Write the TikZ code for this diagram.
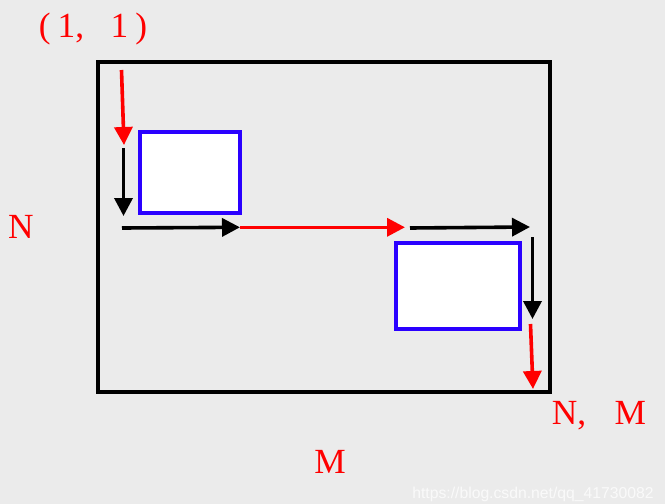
\documentclass[tikz,border=0pt]{standalone}
\usepackage{fontspec}
\setmainfont{Liberation Serif}
\newfontfamily\wmfont{Liberation Sans}
\usetikzlibrary{arrows.meta}
\definecolor{bg}{HTML}{EBEBEB}
\definecolor{boxblue}{HTML}{2A00FF}
\begin{document}
\begin{tikzpicture}[x=0.75pt,y=-0.75pt,
  frame/.style={draw=black,line width=3.3pt},
  block/.style={draw=boxblue,fill=white,line width=3pt},
  blkarrow/.style={draw=black,fill=black,line width=2.7pt,-{Triangle[length=13.5pt,width=13.5pt]}},
  redarrow/.style={draw=red,fill=red,line width=2.7pt,-{Triangle[length=13.5pt,width=13.5pt]}},
  lbl/.style={text=red,font=\fontsize{26.5}{27}\selectfont,inner sep=0pt},
  wm/.style={text=white,opacity=0.75,font=\wmfont\fontsize{11.8}{12}\selectfont,inner sep=0pt}]
\fill[bg] (0,0) rectangle (665,504);
\useasboundingbox (0,0) rectangle (665,504);
\draw[frame] (98,62) rectangle (550,392);
\draw[block] (140,132) rectangle (240,213);
\draw[block] (396,243) rectangle (520,329);
% coordinates
\coordinate (r1s) at (121.5,70);
\coordinate (r1e) at (124,145);
\coordinate (b1s) at (123.5,148);
\coordinate (b1e) at (123.5,216);
\coordinate (h1s) at (122,228);
\coordinate (h1e) at (240,227.3);
\coordinate (h2e) at (405,227.3);
\coordinate (h3s) at (410,228);
\coordinate (h3e) at (530,227);
\coordinate (v2s) at (532.5,237);
\coordinate (v2e) at (532.5,319);
\coordinate (r3s) at (530.5,324);
\coordinate (r3e) at (533,389);
\draw[redarrow] (r1s) -- (r1e);
\draw[blkarrow] (b1s) -- (b1e);
\draw[blkarrow] (h1s) -- (h1e);
\draw[redarrow] (h1e) -- (h2e);
\draw[blkarrow] (h3s) -- (h3e);
\draw[blkarrow] (v2s) -- (v2e);
\draw[redarrow] (r3s) -- (r3e);
\node[lbl] (start) at (93,29) {(\hspace{0.2em}1,\hspace{0.75em}1\hspace{0.2em})};
\node[lbl] (nlab) at (21,227) {N};
\node[lbl] (mlab) at (330,462) {M};
\node[lbl] (end) at (599,416) {N,\hspace{0.8em}M};
\node[wm] (wmark) at (533,494) {https://blog.csdn.net/qq\_41730082};
\end{tikzpicture}
\end{document}
